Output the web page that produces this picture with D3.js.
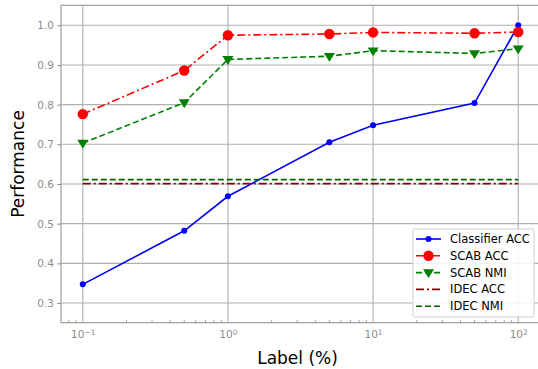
<!DOCTYPE html>
<html>
<head>
<meta charset="utf-8">
<script src="https://cdn.jsdelivr.net/npm/d3@7"></script>
<style>
  body { margin: 0; background: #fff; }
  svg { font-family: "DejaVu Sans", sans-serif; }
</style>
</head>
<body>
<svg id="chart" width="538" height="369"></svg>
<script>
// label percentages (x) and each series
const labels = [0.1, 0.5, 1, 5, 10, 50, 100];
const classifierAcc = [0.347, 0.482, 0.569, 0.705, 0.748, 0.804, 1.0];
const scabAcc = [0.776, 0.886, 0.975, 0.978, 0.982, 0.980, 0.983];
const scabNmi = [0.703, 0.805, 0.914, 0.922, 0.936, 0.929, 0.941];
const idecAcc = [0.601, 0.601, 0.601, 0.601, 0.601, 0.601, 0.601];
const idecNmi = [0.611, 0.611, 0.611, 0.611, 0.611, 0.611, 0.611];
const yTicks = [0.3, 0.4, 0.5, 0.6, 0.7, 0.8, 0.9, 1.0];
const xTicks = [0.1, 1, 10, 100];

const series = [
  { name: "Classifier ACC", values: classifierAcc, color: "#0000ff", dash: null, marker: "dot" },
  { name: "SCAB ACC", values: scabAcc, color: "#ff0000", dash: "8,3,2,3", marker: "circle" },
  { name: "SCAB NMI", values: scabNmi, color: "#008000", dash: "6,3", marker: "tri" },
  { name: "IDEC ACC", values: idecAcc, color: "#8b0000", dash: "8,3,2,3", marker: null },
  { name: "IDEC NMI", values: idecNmi, color: "#006400", dash: "6,3", marker: null }
];

const svg = d3.select("#chart");
const pLeft = 61, pRight = 540, pTop = 5.3, pBottom = 322.7;

const x = d3.scaleLog().domain([Math.pow(10, -1.15), Math.pow(10, 2.15)]).range([pLeft, pRight]);
const y = d3.scaleLinear().domain([0.2504, 1.0504]).range([pBottom, pTop]);

// grid
const grid = svg.append("g").attr("stroke", "#b0b0b0").attr("stroke-width", 1.1);
grid.selectAll(".gx").data(xTicks).enter().append("line")
  .attr("x1", d => x(d)).attr("x2", d => x(d)).attr("y1", pTop).attr("y2", pBottom);
grid.selectAll(".gy").data(yTicks).enter().append("line")
  .attr("x1", pLeft).attr("x2", pRight).attr("y1", d => y(d)).attr("y2", d => y(d));

// axes
const xAxis = d3.axisBottom(x).tickValues(xTicks).tickFormat(() => "").tickSize(0).tickPadding(8);
const gx = svg.append("g").attr("transform", `translate(0,${pBottom})`).call(xAxis);
const yAxis = d3.axisLeft(y).tickValues(yTicks).tickFormat(d3.format(".1f")).tickSize(3.5).tickPadding(3.5);
const gy = svg.append("g").attr("transform", `translate(${pLeft},0)`).call(yAxis);
[gx, gy].forEach(g => {
  g.select(".domain").remove();
  g.selectAll("text").attr("fill", "#8c8c8c").style("font-size", "10.5px").style("font-family", "DejaVu Sans");
  g.selectAll("line").attr("stroke", "#808080");
});
// power-of-ten labels with a raised exponent
gx.selectAll(".tick text").each(function(d) {
  const t = d3.select(this);
  t.append("tspan").text("10");
  t.append("tspan").attr("dy", "-0.45em").style("font-size", "7.5px")
    .text(String(Math.round(Math.log10(d))).replace("-", "\u2212"));
});

// minor x ticks, inward
const minor = [];
for (let e = -2; e <= 2; e++) for (let m = 2; m <= 9; m++) {
  const v = m * Math.pow(10, e);
  if (x(v) > pLeft && x(v) < pRight) minor.push(v);
}
svg.append("g").selectAll("line").data(minor).enter().append("line")
  .attr("x1", d => x(d)).attr("x2", d => x(d)).attr("y1", pBottom).attr("y2", pBottom - 2.5)
  .attr("stroke", "#808080").attr("stroke-width", 0.8);

// spines
svg.append("rect").attr("x", pLeft).attr("y", pTop).attr("width", pRight - pLeft).attr("height", pBottom - pTop)
  .attr("fill", "none").attr("stroke", "#a0a0a0").attr("stroke-width", 1.2);

// lines
const line = d3.line().x((d, i) => x(labels[i])).y(d => y(d));
series.forEach(s => {
  svg.append("path").datum(s.values).attr("d", line)
    .attr("fill", "none").attr("stroke", s.color).attr("stroke-width", 1.6)
    .attr("stroke-dasharray", s.dash);
});

function drawMarker(g, s, cx, cy) {
  if (s.marker === "dot") {
    g.append("circle").attr("cx", cx).attr("cy", cy).attr("r", 3).attr("fill", s.color);
  } else if (s.marker === "circle") {
    g.append("circle").attr("cx", cx).attr("cy", cy).attr("r", 5.2).attr("fill", s.color);
  } else if (s.marker === "tri") {
    const r = 5.5;
    g.append("path")
      .attr("d", `M${cx - r},${cy - r * 0.6}L${cx + r},${cy - r * 0.6}L${cx},${cy + r * 1.0}Z`)
      .attr("fill", s.color);
  }
}

series.forEach(s => {
  if (!s.marker) return;
  const g = svg.append("g");
  s.values.forEach((v, i) => drawMarker(g, s, x(labels[i]), y(v)));
});

// axis titles
svg.append("text").attr("x", (pLeft + pRight) / 2 - 3).attr("y", 364).attr("text-anchor", "middle")
  .style("font-size", "17px").text("Label (%)");
svg.append("text").attr("transform", `translate(24,${(pTop + pBottom) / 2}) rotate(-90)`)
  .attr("text-anchor", "middle").style("font-size", "17px").text("Performance");

// legend
const lg = svg.append("g");
lg.append("rect").attr("x", 413).attr("y", 229).attr("width", 121).attr("height", 88)
  .attr("rx", 2).attr("fill", "#fff").attr("fill-opacity", 0.85)
  .attr("stroke", "#d0d0d0").attr("stroke-width", 1);
series.forEach((s, i) => {
  const cy = 239 + i * 16.8;
  lg.append("line").attr("x1", 416).attr("x2", 441).attr("y1", cy).attr("y2", cy)
    .attr("stroke", s.color).attr("stroke-width", 1.6).attr("stroke-dasharray", s.dash);
  drawMarker(lg, s, 428.5, cy);
  lg.append("text").attr("x", 450).attr("y", cy + 4).style("font-size", "11.5px").text(s.name);
});
</script>
</body>
</html>
